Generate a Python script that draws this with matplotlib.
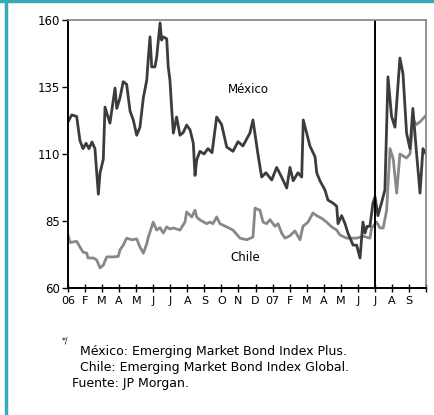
"""Bond index spreads: México vs Chile, Jan 2006 - Sep 2007."""

import matplotlib.pyplot as plt
from matplotlib.lines import Line2D

# x positions in months since Jan 2006 (0 = start of Jan 06)
MEX_T = [0.00, 0.22, 0.51, 0.70, 0.88, 1.06, 1.23, 1.41, 1.58, 1.78, 1.88, 2.07,
         2.17, 2.46, 2.76, 2.86, 3.05, 3.24, 3.44, 3.64, 3.83, 4.03, 4.22, 4.42,
         4.62, 4.71, 4.81, 4.91, 5.10, 5.20, 5.40, 5.49, 5.59, 5.79, 5.88, 5.98,
         6.08, 6.18, 6.37, 6.57, 6.76, 6.96, 7.16, 7.35, 7.45, 7.55, 7.74, 7.98,
         8.21, 8.45, 8.72, 9.01, 9.31, 9.68, 9.97, 10.26, 10.67, 10.85, 11.14,
         11.36, 11.61, 11.95, 12.24, 12.53, 12.83, 13.02, 13.21, 13.49, 13.71,
         13.80, 14.00, 14.19, 14.49, 14.59, 14.78, 15.07, 15.25, 15.54, 15.76,
         15.84, 16.05, 16.25, 16.42, 16.72, 16.93, 17.13, 17.30, 17.42, 17.54,
         17.71, 17.89, 18.01, 18.18, 18.40, 18.59, 18.77, 18.98, 19.18, 19.47,
         19.65, 19.86, 20.06, 20.23, 20.45, 20.65, 20.82, 21.00]
MEX_V = [122, 124.6, 124, 115, 112, 114, 112, 114.5, 112, 95, 103, 108,
         127.5, 121.5, 134.6, 127, 131, 137, 136, 126, 122.7, 117, 120, 131,
         137.6, 145.8, 153.7, 142.5, 142.5, 146, 158.9, 152.5, 153.7, 153, 142.5, 137.6,
         127, 117.8, 123.8, 117, 118, 120.8, 119, 114, 102, 107.8, 111, 110,
         112, 110.5, 123.8, 121, 112.6, 111, 114.6, 113, 117.8, 122.7, 110,
         101.4, 103, 100.3, 105, 101.4, 97.3, 105, 100, 103, 101.4,
         122.7, 117.8, 113, 109, 103, 100, 96.6, 92.8, 91.7, 90.5,
         84, 87, 84, 80.5, 76, 76, 71.2, 84.6, 80.5, 83,
         83, 91.7, 94, 87, 92, 96.6, 138.8, 124, 120, 145.8,
         140, 117.8, 112, 127, 110, 95.4, 112, 110]

CHL_T = [0.00, 0.12, 0.51, 0.70, 0.88, 1.10, 1.17, 1.48, 1.68, 1.88, 2.07, 2.27,
         2.66, 2.95, 3.05, 3.24, 3.44, 3.74, 4.03, 4.22, 4.42, 4.62, 4.71, 4.91,
         5.00, 5.20, 5.40, 5.59, 5.79, 5.98, 6.18, 6.57, 6.86, 6.96, 7.26, 7.45,
         7.55, 7.74, 8.13, 8.33, 8.50, 8.72, 8.91, 9.31, 9.68, 10.09, 10.48, 10.85,
         10.97, 11.26, 11.44, 11.65, 11.85, 12.14, 12.32, 12.53, 12.73, 13.02, 13.31,
         13.61, 13.78, 14.08, 14.37, 14.59, 14.88, 15.17, 15.47, 15.76, 15.95, 16.35,
         16.93, 17.32, 17.71, 17.81, 18.10, 18.30, 18.49, 18.69, 18.89, 19.08, 19.28,
         19.47, 19.86, 20.06, 20.25, 20.45, 20.65, 20.94]
CHL_V = [79.8, 77, 77.4, 75.3, 73.4, 73, 71.2, 71.2, 70.5, 67.5, 68.5, 71.6,
         71.6, 71.8, 74.2, 76, 78.6, 78, 78.3, 75.3, 73, 76.5, 79, 82.8,
         84.6, 81.6, 82.5, 80.5, 82.8, 82, 82.4, 81.6, 84.6, 88.4, 86.5, 89,
         86.5, 85.4, 84, 84.6, 84, 86.5, 84, 82.8, 81.6, 78.6, 78, 79,
         89.8, 89, 84.6, 84, 85.5, 83, 84, 80.5, 78.6, 79.5, 81.3,
         78, 83, 84.6, 88, 87, 86, 84.6, 82.8, 81.6, 79.8, 78.6,
         78.6, 79.3, 78.6, 82.4, 84.6, 82.4, 82.4, 89, 112, 108, 95.4,
         110, 108.5, 110, 122.7, 121, 122, 124]

MONTH_LABELS = ["06", "F", "M", "A", "M", "J", "J", "A", "S", "O", "N", "D",
                "07", "F", "M", "A", "M", "J", "J", "A", "S"]
Y_TICKS = [60, 85, 110, 135, 160]

fig = plt.figure(figsize=(4.35, 4.15), dpi=100)
ax = fig.add_axes([68 / 435, 1 - 288 / 415, (426 - 68) / 435, (288 - 20) / 415])

ax.plot(CHL_T, CHL_V, color="#888888", lw=2.0, solid_joinstyle="round")
ax.plot(MEX_T, MEX_V, color="#3c3c3c", lw=2.0, solid_joinstyle="round")
ax.axvline(18, color="black", lw=1.4)

ax.set_xlim(0, 21)
ax.set_ylim(60, 160)
ax.set_yticks(Y_TICKS)
ax.set_xticks(range(22))
ax.set_xticklabels(MONTH_LABELS + [""])
ax.tick_params(axis="x", direction="inout", length=6, width=1, labelsize=8, pad=3)
ax.tick_params(axis="y", direction="out", length=4, width=1, labelsize=8.5, pad=2)

for side in ("left", "bottom"):
    ax.spines[side].set_color("black")
    ax.spines[side].set_linewidth(1.4)
for side in ("top", "right"):
    ax.spines[side].set_color("#808080")
    ax.spines[side].set_linewidth(1.2)

ax.text(10.6, 134, "México", fontsize=8.5, ha="center", va="center")
ax.text(10.4, 71.5, "Chile", fontsize=8.5, ha="center", va="center")

fig.text(62 / 435, 1 - 341 / 415, "*/", fontsize=5.5, ha="left", va="center")
fig.text(80 / 435, 1 - 351 / 415, "México: Emerging Market Bond Index Plus.",
         fontsize=9, ha="left", va="center")
fig.text(80 / 435, 1 - 367 / 415, "Chile: Emerging Market Bond Index Global.",
         fontsize=9, ha="left", va="center")
fig.text(72 / 435, 1 - 383 / 415, "Fuente: JP Morgan.",
         fontsize=9, ha="left", va="center")

# teal frame (left and top edges)
teal = "#3aa9b8"
fig.add_artist(Line2D([6.5 / 435, 6.5 / 435], [0, 1], color=teal, lw=2.5,
                      transform=fig.transFigure))
fig.add_artist(Line2D([0, 1], [1 - 1 / 415, 1 - 1 / 415], color=teal, lw=2.5,
                      transform=fig.transFigure))

fig.savefig("out.png", dpi=100)
